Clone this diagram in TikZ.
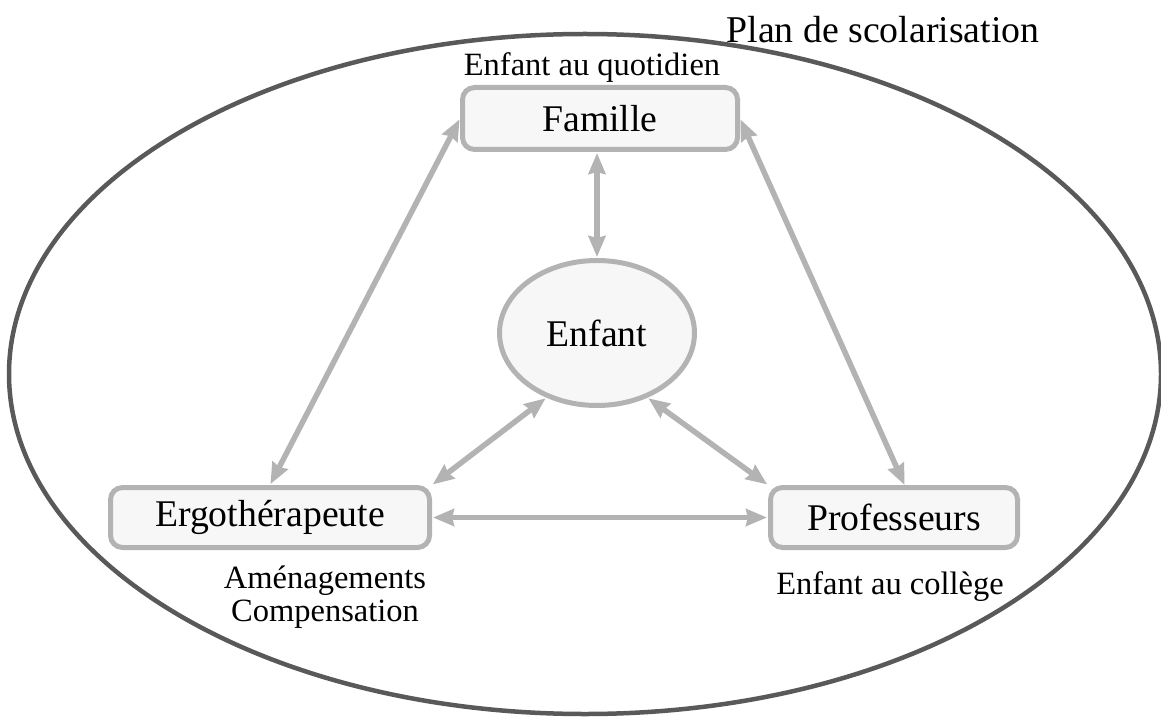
\documentclass[tikz,border=0pt]{standalone}
\usepackage{fontspec}
\setmainfont{Liberation Serif}
\usetikzlibrary{arrows.meta,shapes.geometric}
\definecolor{boxline}{HTML}{B3B3B3}
\definecolor{boxfill}{HTML}{F7F7F7}
\definecolor{outer}{HTML}{595959}
\tikzset{
  rbox/.style={draw=boxline, fill=boxfill, line width=5pt, rounded corners=12pt, inner sep=0pt, font=\fontsize{37.7}{44}\selectfont},
  link/.style={draw=boxline, line width=5.5pt, {Stealth[length=21pt,width=17pt,inset=2pt]}-{Stealth[length=21pt,width=17pt,inset=2pt]}, shorten <=1pt, shorten >=1pt},
  lbl/.style={font=\fontsize{32.5}{33}\selectfont, inner sep=0pt, align=center},
}
\begin{document}
\begin{tikzpicture}[x=1pt,y=-1pt]
\useasboundingbox (0,0) rectangle (1161,719);
\draw[outer, line width=4.5pt] (585,374) ellipse [x radius=576, y radius=340];
\node[font=\fontsize{37.8}{44}\selectfont, inner sep=0pt] (plan) at (883,30) {Plan de scolarisation};
\node[rbox, minimum width=275pt, minimum height=62pt] (famille) at (600,118.5) {Famille};
\node[lbl] (quot) at (592,68) {Enfant au quotidien};
\node[rbox, ellipse, rounded corners=0pt, minimum width=195pt, minimum height=145pt] (enfant) at (597,333) {Enfant};
\node[rbox, minimum width=319pt, minimum height=60pt] (ergo) at (270,517.5) {Ergothérapeute};
\node[rbox, minimum width=247pt, minimum height=60pt] (prof) at (894,517.5) {Professeurs};
\node[lbl] (amen) at (325,597) {Aménagements\\Compensation};
\node[lbl] (coll) at (890,587) {Enfant au collège};
\coordinate (fs) at (597,152);
\coordinate (pn) at (905,486);
\draw[link] (fs) -- (enfant.north);
\draw[link] (famille.west) -- (ergo.north);
\draw[link] (famille.east) -- (pn);
\draw[link] (enfant.-128) -- (ergo.north east);
\draw[link] (enfant.-52) -- (prof.north west);
\draw[link] (ergo.east) -- (prof.west);
\end{tikzpicture}
\end{document}
